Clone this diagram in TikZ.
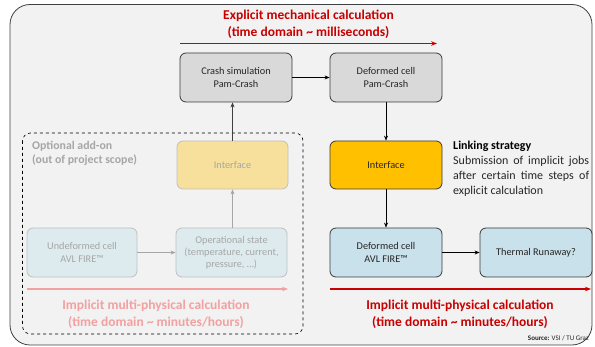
\documentclass[tikz,border=0pt]{standalone}
\usepackage{fontspec}
\setmainfont{Carlito}
\usetikzlibrary{arrows.meta}
\definecolor{bgc}{HTML}{F2F2F2}
\definecolor{frame}{HTML}{404040}
\definecolor{greybox}{HTML}{D9D9D9}
\definecolor{boxline}{HTML}{3A3A3A}
\definecolor{orangebox}{HTML}{FFC000}
\definecolor{fadeyellow}{HTML}{F7E09C}
\definecolor{fadeblue}{HTML}{DDEBEF}
\definecolor{bluebox}{HTML}{C9E1EB}
\definecolor{fadeline}{HTML}{BFBFBF}
\definecolor{fadetext}{HTML}{A6A6A6}
\definecolor{txt}{HTML}{262626}
\definecolor{redc}{HTML}{C80000}
\definecolor{fadered}{HTML}{F2A0A0}
\tikzset{
  boxbase/.style={rectangle, rounded corners=6pt, minimum width=112pt, minimum height=49pt, align=center, inner sep=0pt, font=\fontsize{10.3}{12.5}\selectfont, line width=0.8pt},
  darkbox/.style={boxbase, draw=boxline, text=txt},
  fadebox/.style={boxbase, draw=fadeline, text=fadetext},
  arr/.style={-{Stealth[length=5pt,width=4pt]}, line width=0.6pt, draw=black},
  fadearr/.style={-{Stealth[length=5pt,width=4pt]}, line width=0.6pt, draw=fadetext},
  titletxt/.style={font=\bfseries\fontsize{13.5}{17}\selectfont, align=center, inner sep=0pt},
}
\begin{document}
\begin{tikzpicture}[x=1pt,y=-1pt]
\useasboundingbox (0,0) rectangle (595,347);
% outer frame
\draw[frame, fill=bgc, line width=0.8pt, rounded corners=20pt] (10,4.5) rectangle (592,345);
% dashed region
\draw[black, dashed, line width=0.6pt, rounded corners=8pt] (22.5,133) rectangle (303,334);
% boxes
\node[darkbox, fill=greybox] (crash) at (236,77.5) {Crash simulation\\Pam-Crash};
\node[darkbox, fill=greybox] (defpam) at (386,77.5) {Deformed cell\\Pam-Crash};
\node[darkbox, fill=orangebox, minimum height=48pt] (intf) at (386,165) {Interface};
\node[fadebox, fill=fadeyellow, minimum width=111pt, minimum height=48pt] (fintf) at (232.5,165) {Interface};
\node[fadebox, fill=fadeblue, minimum width=110pt] (undef) at (82,252.5) {Undeformed cell\\AVL FIRE™};
\node[fadebox, fill=fadeblue, minimum width=111pt, font=\fontsize{10.3}{12}\selectfont] (opstate) at (231.5,252.5) {Operational state\\(temperature, current,\\pressure, …)};
\node[darkbox, fill=bluebox] (defavl) at (386,252.5) {Deformed cell\\AVL FIRE™};
\node[darkbox, fill=bluebox] (thermal) at (536,252.5) {Thermal Runaway?};
% connectors
\draw[arr] (crash) -- (defpam);
\draw[arr] (defpam) -- (intf);
\draw[arr] (intf) -- (defavl);
\draw[arr] (defavl) -- (thermal);
\draw[fadearr] (undef) -- (opstate);
\draw[fadearr] (opstate.north -| fintf.north) -- (fintf.south);
\draw[arr, draw=black!75] (fintf.north) -- (fintf.north |- crash.south);
% time arrows
\coordinate (ta1) at (180,43.5);
\coordinate (ta2) at (437,43.5);
\draw[redc, line width=1.2pt, -{Stealth[length=6pt,width=4.5pt]}] (ta1) -- (ta2);
\node[titletxt, text=redc] (ttop) at (308.5,24.5) {Explicit mechanical calculation\\(time domain \textasciitilde{} milliseconds)};
\coordinate (tb1) at (330,289);
\coordinate (tb2) at (591,289);
\draw[redc, line width=1.2pt, -{Stealth[length=6pt,width=4.5pt]}] (tb1) -- (tb2);
\node[titletxt, text=redc] (tbr) at (460,314.5) {Implicit multi-physical calculation\\(time domain \textasciitilde{} minutes/hours)};
\coordinate (tc1) at (27,289);
\coordinate (tc2) at (288,289);
\draw[fadered, line width=1.2pt, -{Stealth[length=6pt,width=4.5pt]}] (tc1) -- (tc2);
\node[titletxt, text=fadered] (tbl) at (156,314.5) {Implicit multi-physical calculation\\(time domain \textasciitilde{} minutes/hours)};
% optional add-on
\node[anchor=north west, inner sep=0pt, align=left, text=fadetext, font=\bfseries\fontsize{11.8}{14}\selectfont] (opt) at (32,141) {Optional add-on\\(out of project scope)};
% linking strategy
\node[anchor=base west, inner sep=0pt, text=black, font=\bfseries\fontsize{12}{14.7}\selectfont] (link) at (453,150) {Linking strategy};
\node[anchor=north west, inner sep=0pt, text=txt, align=left, font=\fontsize{12}{14.8}\selectfont] (linktxt) at (453,156) {\makebox[136pt][s]{Submission of implicit jobs}\\\makebox[136pt][s]{after certain time steps of}\\explicit calculation};
% source
\node[anchor=base east, inner sep=0pt, font=\fontsize{7}{8}\selectfont, text=txt] (src) at (589,340.5) {\textbf{Source:} VSI / TU Graz};
\end{tikzpicture}
\end{document}
